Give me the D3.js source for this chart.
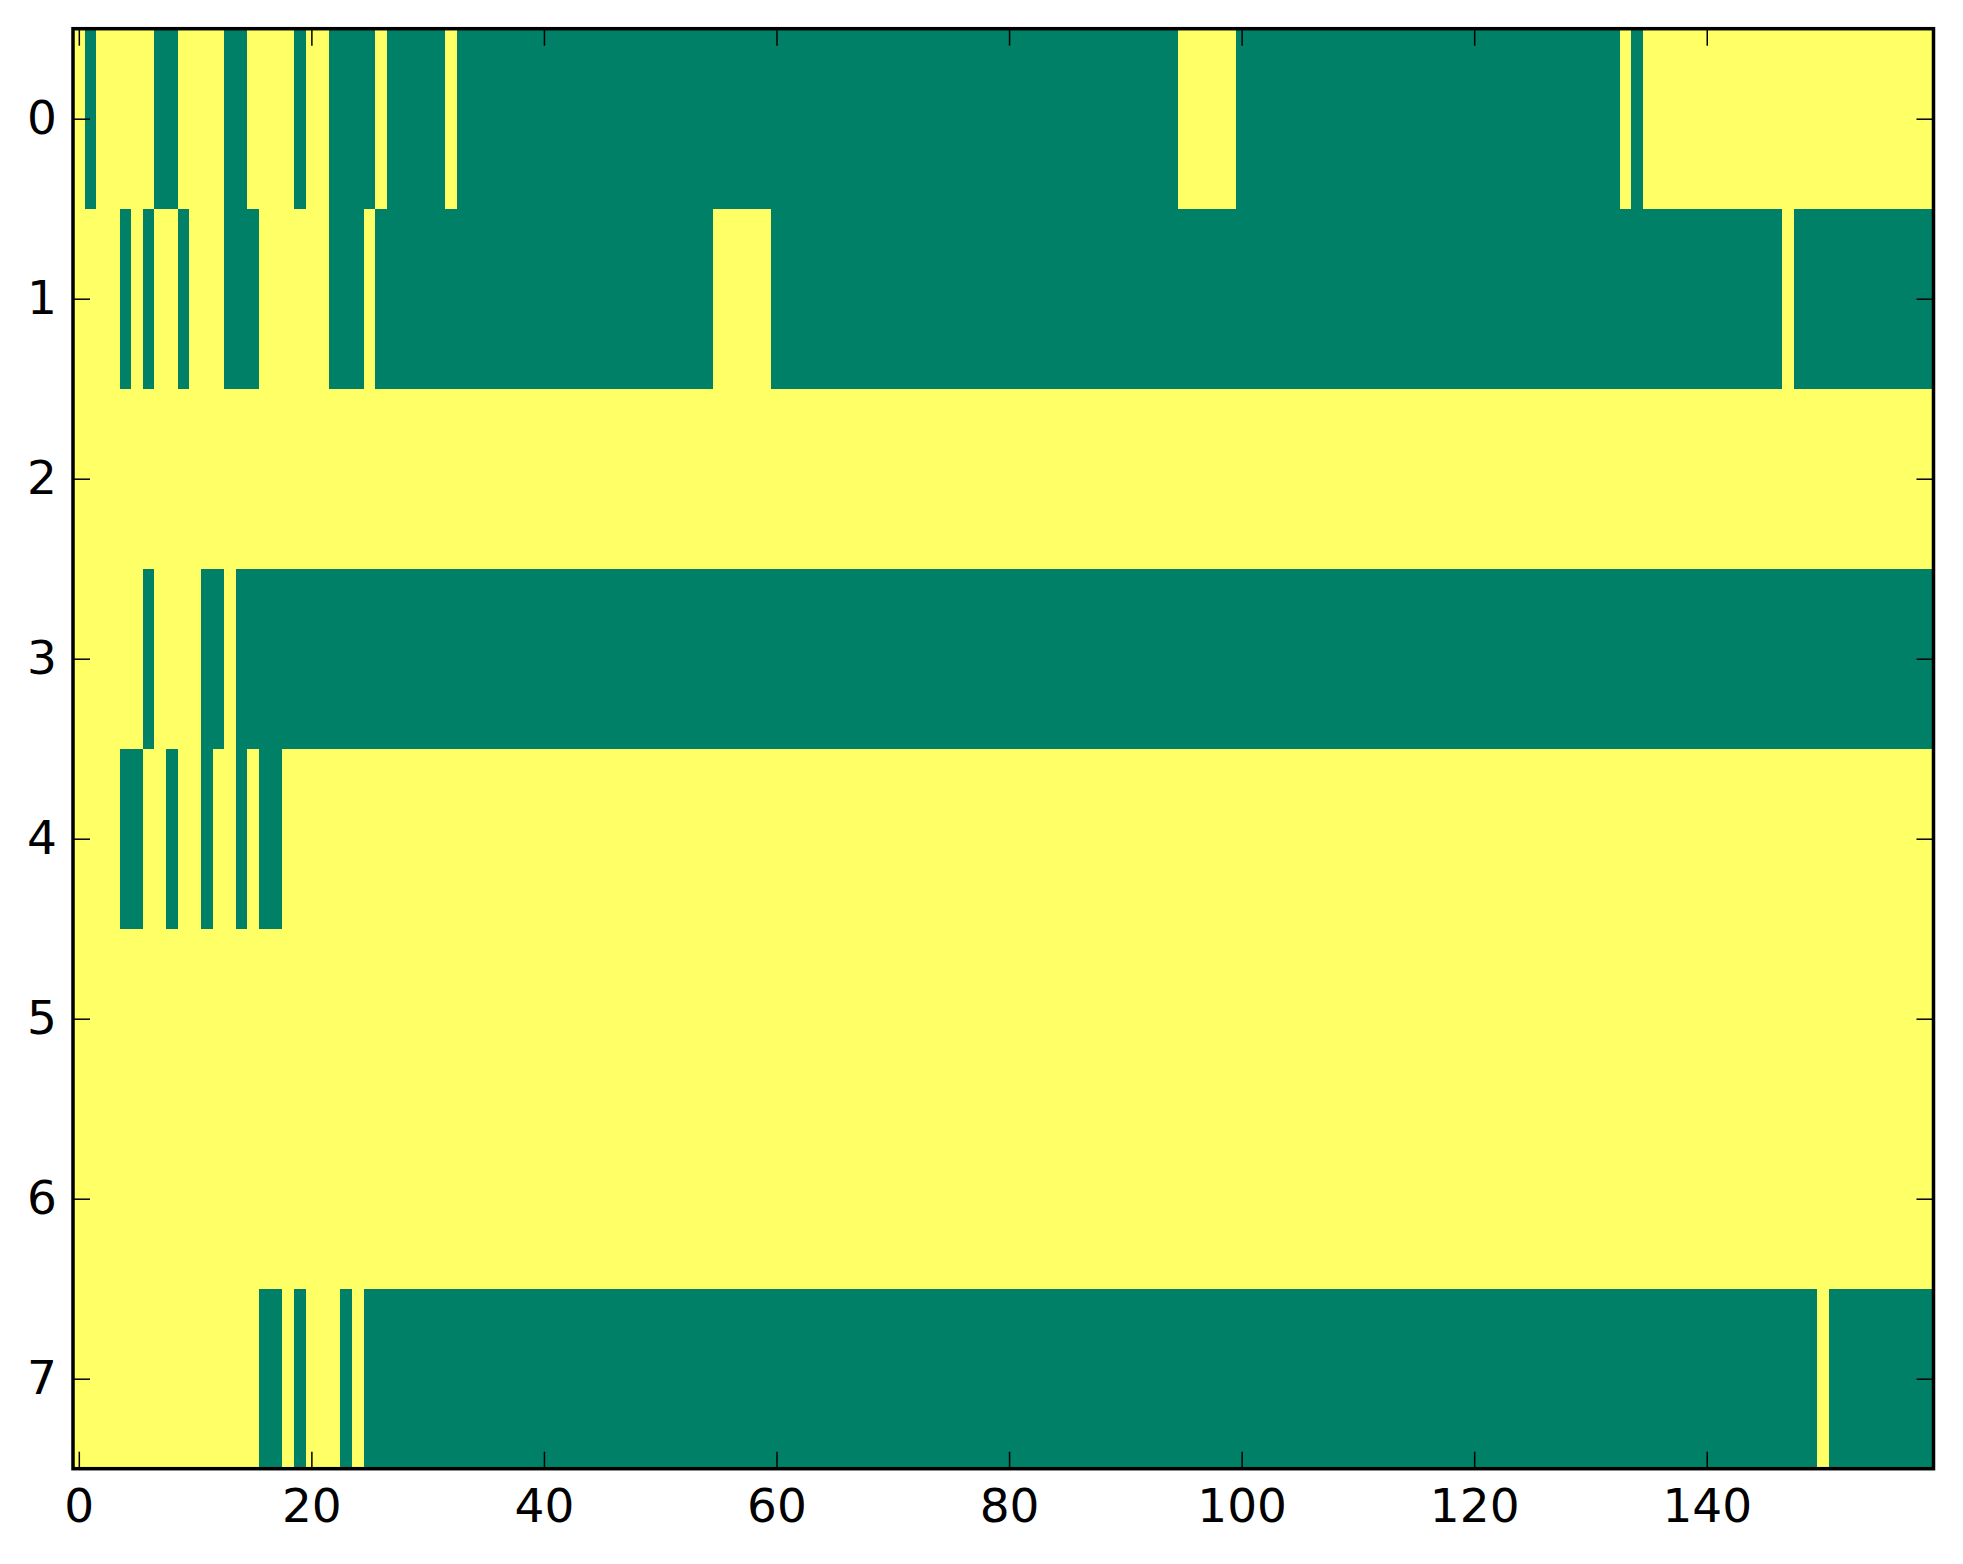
<!DOCTYPE html>
<html>
<head>
<meta charset="utf-8">
<script src="https://cdn.jsdelivr.net/npm/d3@7"></script>
<style>
  body { margin: 0; background: #fff; }
  .axis text { font-family: "DejaVu Sans", sans-serif; font-size: 47px; fill: #000; }
  .axis line { stroke: #000; stroke-width: 1.5px; }
  .axis path { display: none; }
</style>
</head>
<body>
<svg id="chart"></svg>
<script>
// green (0) runs per row, inclusive column ranges; everything else is 1 (yellow)
let nCols = 160;
let row0 = [[1, 1], [7, 8], [13, 14], [19, 19], [22, 25], [27, 31], [33, 94], [100, 132], [134, 134]];
let row1 = [[4, 4], [6, 6], [9, 9], [13, 15], [22, 24], [26, 54], [60, 146], [148, 159]];
let row2 = [];
let row3 = [[6, 6], [11, 12], [14, 159]];
let row4 = [[4, 5], [8, 8], [11, 11], [14, 14], [16, 17]];
let row5 = [];
let row6 = [];
let row7 = [[16, 17], [19, 19], [23, 23], [25, 149], [151, 159]];
let rows = [row0, row1, row2, row3, row4, row5, row6, row7];

let xTicks = [0, 20, 40, 60, 80, 100, 120, 140];
let yTicks = [0, 1, 2, 3, 4, 5, 6, 7];

function buildMatrix() {
    let cells = [];
    rows.forEach(function (greens, r) {
        for (let c = 0; c < nCols; c++) {
            let isGreen = greens.some(g => c >= g[0] && c <= g[1]);
            cells.push({row: r, col: c, value: isGreen ? 0 : 1});
        }
    });
    return cells;
}

// merge equal neighbouring cells so the fill has no seams
function toRuns(cells) {
    let runs = [];
    cells.forEach(function (d) {
        let last = runs[runs.length - 1];
        if (last && last.row === d.row && last.value === d.value && last.end === d.col - 1) {
            last.end = d.col;
        } else {
            runs.push({row: d.row, start: d.col, end: d.col, value: d.value});
        }
    });
    return runs;
}

function drawChart() {
    let width = 1963, height = 1564;
    let left = 73, top = 28.7, right = 1933.5, bottom = 1468.7;

    let svg = d3.select("#chart").attr("width", width).attr("height", height);

    let x = d3.scaleLinear().domain([-0.5, nCols - 0.5]).range([left, right]);
    let y = d3.scaleLinear().domain([-0.5, rows.length - 0.5]).range([top, bottom]);
    let color = d3.scaleLinear().domain([0, 1]).range(["#008066", "#ffff66"]);

    let runs = toRuns(buildMatrix());
    svg.append("g").selectAll("rect").data(runs)
        .enter().append("rect")
        .attr("x", d => x(d.start - 0.5))
        .attr("y", d => y(d.row - 0.5))
        .attr("width", d => x(d.end + 0.5) - x(d.start - 0.5))
        .attr("height", d => y(d.row + 0.5) - y(d.row - 0.5))
        .attr("fill", d => color(d.value))
        .attr("shape-rendering", "crispEdges");

    let tickLen = 17;
    svg.append("g").attr("class", "axis")
        .attr("transform", "translate(0," + bottom + ")")
        .call(d3.axisBottom(x).tickValues(xTicks).tickSizeInner(-tickLen).tickSizeOuter(0).tickPadding(20));
    svg.append("g").attr("class", "axis")
        .attr("transform", "translate(0," + top + ")")
        .call(d3.axisTop(x).tickValues(xTicks).tickSizeInner(-tickLen).tickSizeOuter(0).tickFormat(""));
    svg.append("g").attr("class", "axis")
        .attr("transform", "translate(" + left + ",0)")
        .call(d3.axisLeft(y).tickValues(yTicks).tickSizeInner(-tickLen).tickSizeOuter(0).tickPadding(16));
    svg.append("g").attr("class", "axis")
        .attr("transform", "translate(" + right + ",0)")
        .call(d3.axisRight(y).tickValues(yTicks).tickSizeInner(-tickLen).tickSizeOuter(0).tickFormat(""));

    svg.append("rect")
        .attr("x", left)
        .attr("y", top)
        .attr("width", right - left)
        .attr("height", bottom - top)
        .attr("fill", "none")
        .attr("stroke", "#000")
        .attr("stroke-width", 3.5);
}

drawChart();
</script>
</body>
</html>
